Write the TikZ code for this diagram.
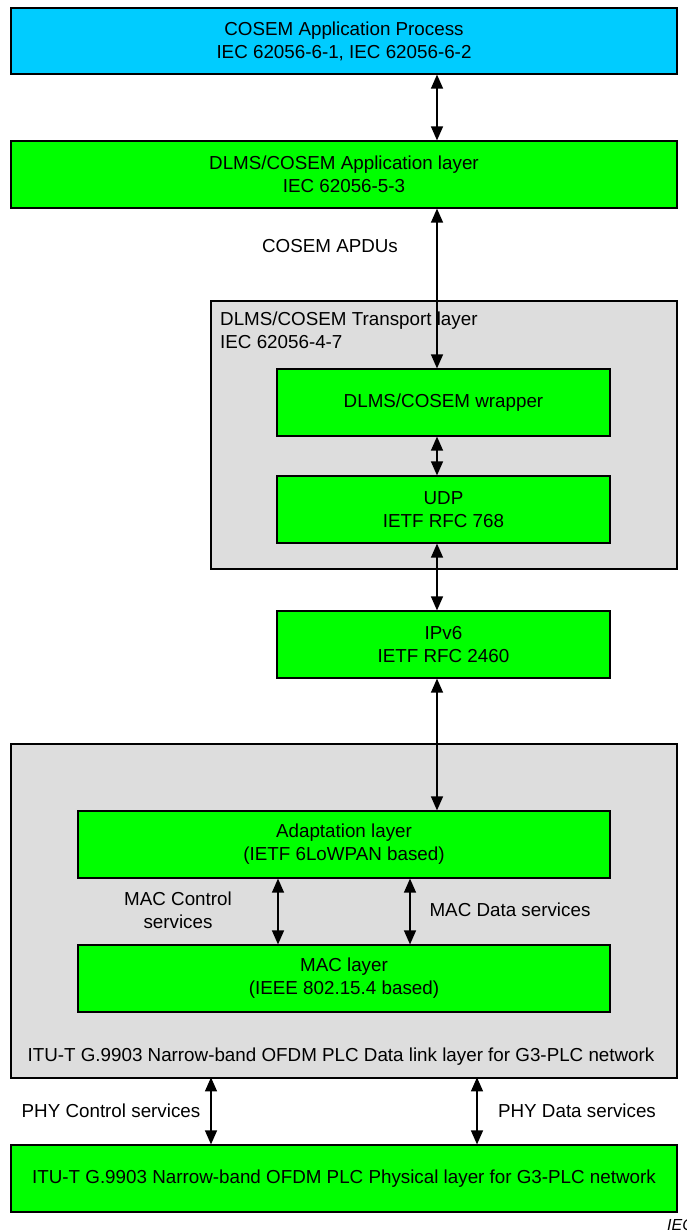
\documentclass[tikz,border=0pt]{standalone}
\usepackage{fontspec}
\setmainfont{Liberation Sans}
\usetikzlibrary{arrows.meta}

\definecolor{appcyan}{RGB}{0,204,255}
\definecolor{layergreen}{RGB}{0,255,0}
\definecolor{groupgray}{RGB}{221,221,221}

\begin{document}
\begin{tikzpicture}[x=1pt,y=-1pt,
  font=\fontsize{18.8}{23}\selectfont,
  layerbox/.style={draw=black, line width=1.2pt, fill=layergreen, align=center,
    inner sep=0pt, minimum height=67pt},
  groupbox/.style={draw=black, line width=1.2pt, fill=groupgray},
  biarrow/.style={line width=1.3pt, {Triangle[width=12pt,length=14pt]}-{Triangle[width=12pt,length=14pt]}},
  lbl/.style={align=center, inner sep=0pt}
]
\useasboundingbox (0,0) rectangle (686,1231);

% grouping frames
\draw[groupbox] (211,301) rectangle (677,569);
\draw[groupbox] (11,744) rectangle (677,1078);

% application process and application layer
\node[layerbox, fill=appcyan, minimum width=666pt, minimum height=66pt] (app) at (344,41)
  {COSEM Application Process\\IEC 62056-6-1, IEC 62056-6-2};
\node[layerbox, minimum width=666pt] (applayer) at (344,174.5)
  {DLMS/COSEM Application layer\\IEC 62056-5-3};

% transport layer
\node[lbl, anchor=north west, align=left] (tlabel) at (220,312)
  {DLMS/COSEM Transport layer\\IEC 62056-4-7};
\node[layerbox, minimum width=333pt] (wrapper) at (443.5,402.5) {DLMS/COSEM wrapper};
\node[layerbox, minimum width=333pt] (udp) at (443.5,509.5) {UDP\\IETF RFC 768};

% network layer
\node[layerbox, minimum width=333pt] (ipv6) at (443.5,644.5) {IPv6\\IETF RFC 2460};

% data link layer
\node[layerbox, minimum width=532pt] (adapt) at (344,844.5)
  {Adaptation layer\\(IETF 6LoWPAN based)};
\node[layerbox, minimum width=532pt] (mac) at (344,978.5)
  {MAC layer\\(IEEE 802.15.4 based)};
\node[lbl] (dltext) at (341,1057)
  {ITU-T G.9903 Narrow-band OFDM PLC Data link layer for G3-PLC network};

% physical layer
\node[layerbox, minimum width=666pt] (phys) at (344,1178.5)
  {ITU-T G.9903 Narrow-band OFDM PLC Physical layer for G3-PLC network};

% connector columns
\coordinate (cx) at (437,0);
\coordinate (macctl) at (278,0);
\coordinate (macdat) at (410,0);
\coordinate (phyctl) at (211,0);
\coordinate (phydat) at (477,0);

\draw[biarrow] (app.south -| cx) -- (applayer.north -| cx);
\draw[biarrow] (applayer.south -| cx) -- (wrapper.north -| cx);
\draw[biarrow] (wrapper.south -| cx) -- (udp.north -| cx);
\draw[biarrow] (udp.south -| cx) -- (ipv6.north -| cx);
\draw[biarrow] (ipv6.south -| cx) -- (adapt.north -| cx);
\draw[biarrow] (adapt.south -| macctl) -- (mac.north -| macctl);
\draw[biarrow] (adapt.south -| macdat) -- (mac.north -| macdat);
\draw[biarrow] (phys.north -| phyctl) -- ++(0,-67);
\draw[biarrow] (phys.north -| phydat) -- ++(0,-67);

% connector labels
\node[lbl] (apdu) at (330,246) {COSEM APDUs};
\node[lbl] (macctllbl) at (178,910) {MAC Control\\services};
\node[lbl] (macdatlbl) at (510,910) {MAC Data services};
\node[lbl] (phyctllbl) at (111,1111) {PHY Control services};
\node[lbl] (phydatlbl) at (577,1111) {PHY Data services};

% figure reference, running off the right edge
\node[lbl, anchor=base west, font=\fontsize{16}{18}\selectfont\itshape] (iec) at (667,1230) {IEC};
\end{tikzpicture}
\end{document}
